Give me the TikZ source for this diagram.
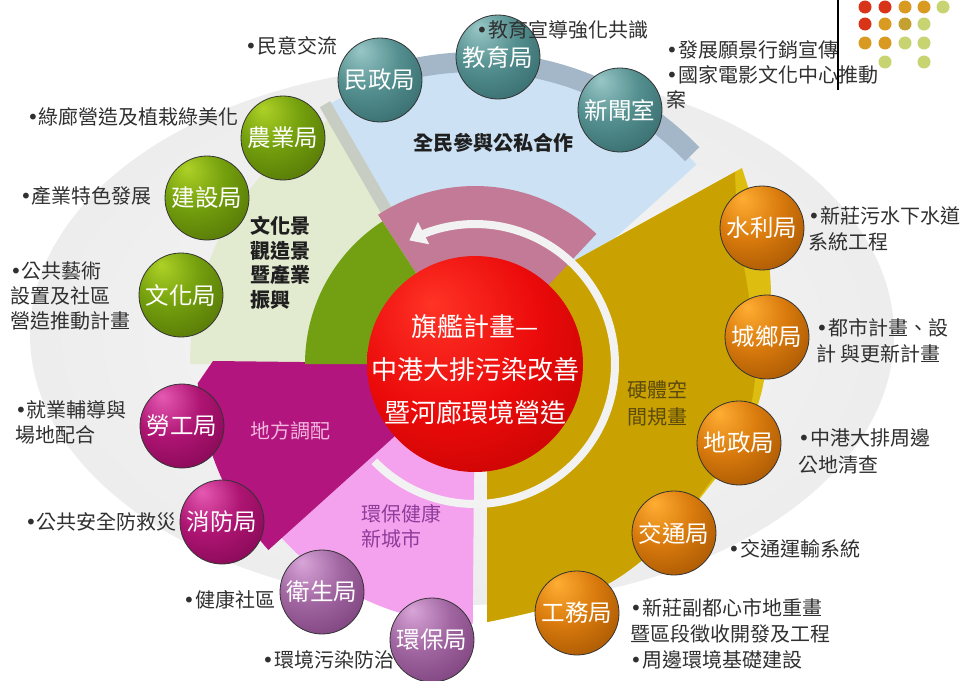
\documentclass[tikz,border=0pt]{standalone}
\usepackage{fontspec}
\setmainfont{Noto Sans CJK TC}
\newfontfamily\bulfont{DejaVu Sans}
\newcommand\mybul{{\bulfont •}}
\usetikzlibrary{calc,arrows.meta}
\definecolor{skyfill}{HTML}{CCE2F4}
\definecolor{bandblue}{HTML}{A3B7C9}
\definecolor{palegreen}{HTML}{E2EACF}
\definecolor{stripgray}{HTML}{C8CDC4}
\definecolor{goldfill}{HTML}{C9A100}
\definecolor{goldlight}{HTML}{DDBE10}
\definecolor{pinkfill}{HTML}{F5A2EE}
\definecolor{magfill}{HTML}{B3157E}
\definecolor{mauvefill}{HTML}{C27A96}
\definecolor{greenfill}{HTML}{72A012}
\definecolor{ringwhite}{HTML}{F2F2F2}
\definecolor{labelgray}{HTML}{303030}
\definecolor{dotred}{HTML}{D7341A}
\definecolor{dotamber}{HTML}{D99A22}
\definecolor{dotdark}{HTML}{C4A030}
\definecolor{dotgreen}{HTML}{C8D372}
\definecolor{pinktext}{HTML}{F2B6DE}
\definecolor{purpletext}{HTML}{8E3C9A}
\definecolor{olivetext}{HTML}{5C4A0E}
\pgfdeclareradialshading{shellipse}{\pgfpoint{0bp}{0bp}}{gray(0bp)=(0.97);gray(30bp)=(0.92);gray(50bp)=(0.86);gray(75bp)=(0.86)}
\pgfdeclareradialshading{shred}{\pgfpoint{-10bp}{14bp}}{rgb(0bp)=(1,0.2,0.15);rgb(22bp)=(0.92,0.04,0.04);rgb(48bp)=(0.7,0,0);rgb(75bp)=(0.5,0,0)}
\pgfdeclareradialshading{shteal}{\pgfpoint{-12bp}{18bp}}{rgb(0bp)=(0.6,0.78,0.78);rgb(20bp)=(0.33,0.56,0.56);rgb(45bp)=(0.18,0.38,0.39);rgb(75bp)=(0.08,0.2,0.2)}
\pgfdeclareradialshading{sholive}{\pgfpoint{-12bp}{18bp}}{rgb(0bp)=(0.68,0.82,0.15);rgb(20bp)=(0.45,0.62,0.05);rgb(45bp)=(0.3,0.42,0.02);rgb(75bp)=(0.15,0.22,0)}
\pgfdeclareradialshading{shmag}{\pgfpoint{-12bp}{18bp}}{rgb(0bp)=(0.9,0.35,0.7);rgb(20bp)=(0.68,0.08,0.45);rgb(45bp)=(0.48,0.02,0.3);rgb(75bp)=(0.25,0,0.15)}
\pgfdeclareradialshading{shmauve}{\pgfpoint{-12bp}{18bp}}{rgb(0bp)=(0.85,0.65,0.85);rgb(20bp)=(0.63,0.4,0.63);rgb(45bp)=(0.45,0.22,0.45);rgb(75bp)=(0.25,0.1,0.25)}
\pgfdeclareradialshading{shorange}{\pgfpoint{-12bp}{18bp}}{rgb(0bp)=(1,0.68,0.2);rgb(20bp)=(0.85,0.48,0.05);rgb(45bp)=(0.6,0.3,0);rgb(75bp)=(0.35,0.15,0)}
\begin{document}
\begin{tikzpicture}[x=1pt,y=-1pt,
  ballnode/.style={circle, minimum size=84pt, inner sep=0pt, draw=black!80, line width=0.8pt,
    text=white, font=\fontsize{23.5}{23.5}\selectfont, shade},
  tealball/.style={ballnode, shading=shteal},
  oliveball/.style={ballnode, shading=sholive},
  magball/.style={ballnode, shading=shmag},
  mauveball/.style={ballnode, shading=shmauve},
  orangeball/.style={ballnode, shading=shorange},
  lbl/.style={inner sep=0pt, align=left, text=labelgray, font=\fontsize{20}{25}\selectfont},
  seclbl/.style={inner sep=0pt, align=left, font=\fontsize{20}{24.5}\selectfont},
  dotc/.style={radius=6.5pt}
]
\useasboundingbox (0,0) rectangle (976,680);
\coordinate (C) at (475,364);
% background ellipse
\shade[shading=shellipse] (462,335) ellipse [x radius=432pt, y radius=270pt];
% top blue sector and band
\fill[skyfill] (C) -- plot[domain=42:119,samples=50] ({475+298*cos(\x)},{364-298*sin(\x)}) -- cycle;
\draw[bandblue, line width=20pt] plot[domain=44:113,samples=50] ({475+302*cos(\x)},{364-302*sin(\x)});
% pale green sector
\fill[palegreen] (C) -- plot[domain=121:180,samples=40] ({475+285*cos(\x)},{364-285*sin(\x)}) -- cycle;
\draw[stripgray, line width=12pt] ({475+170*cos(120)},{364-170*sin(120)}) -- ({475+300*cos(120)},{364-300*sin(120)});
% gold sector
\fill[goldlight] (487,309) -- plot[smooth] coordinates {(487,622) (547,608) (613,581) (667,538) (712,483) (742,445) (762,390) (771,320) (768,255) (752,200) (742,168)} -- cycle;
\fill[goldfill] (487,309) -- plot[smooth] coordinates {(487,622) (547,608) (613,581) (667,538) (710,482) (736,446) (752,400) (756,350) (748,290) (738,230) (735,172)} -- cycle;
% pink sector
\fill[pinkfill] (C) -- plot[domain=222:269.5,samples=40] ({475+260*cos(\x)},{364-260*sin(\x)}) -- cycle;
% magenta sector
\fill[magfill] (C) -- (213,361) -- plot[domain=184:222,samples=30] ({475+278*cos(\x)},{364-278*sin(\x)}) -- cycle;
% mauve inner sector
\fill[mauvefill] (C) -- plot[domain=47:123,samples=40] ({475+178*cos(\x)},{364-178*sin(\x)}) -- cycle;
% green inner sector
\fill[greenfill] (C) -- plot[domain=123:180,samples=40] ({475+170*cos(\x)},{364-170*sin(\x)}) -- cycle;
% white circular arrow
\draw[ringwhite, line width=8pt, -{Triangle[length=16pt,width=24pt]}] plot[domain=-136:118,samples=120] ({475+140*cos(\x)},{364-140*sin(\x)});
% centre
\node[circle, minimum size=216pt, inner sep=0pt, shade, shading=shred] (core) at (C) {};
\node[inner sep=0pt, align=center, text=white, font=\fontsize{26}{43}\selectfont] (coretext) at (475,370) {旗艦計畫—\\中港大排污染改善\\暨河廊環境營造};
% sector labels
\node[seclbl, font=\bfseries\fontsize{20}{24.5}\selectfont, text=black!88] (secA) at (493,143) {全民參與公私合作};
\node[seclbl, font=\bfseries\fontsize{20}{24.5}\selectfont, text=black!88, anchor=north west] (secB) at (250,216) {文化景\\觀造景\\暨產業\\振興};
\node[seclbl, text=pinktext] (secC) at (290,431) {地方調配};
\node[seclbl, text=purpletext, anchor=north west, font=\fontsize{20}{25}\selectfont] (secD) at (361,504) {環保健康\\新城市};
\node[seclbl, text=olivetext, anchor=north west, font=\fontsize{20}{27}\selectfont] (secE) at (627,380) {硬體空\\間規畫};
% bullet labels (under the balls)
\node[lbl, anchor=west] (tMinyi) at (245,46) {\mybul 民意交流};
\node[lbl, anchor=north west] (tFazhan) at (666,40) {\mybul 發展願景行銷宣傳\\\mybul 國家電影文化中心推動\\案};
\node[lbl, anchor=west] (tLvlang) at (27,117) {\mybul 綠廊營造及植栽綠美化};
\node[lbl, anchor=west] (tChanye) at (20,196) {\mybul 產業特色發展};
\node[lbl, anchor=north west] (tYishu) at (10,261) {\mybul 公共藝術\\設置及社區\\營造推動計畫};
\node[lbl, anchor=north west] (tJiuye) at (15,400) {\mybul 就業輔導與\\場地配合};
\node[lbl, anchor=west] (tAnquan) at (25,522) {\mybul 公共安全防救災};
\node[lbl, anchor=west] (tJiankang) at (183,600) {\mybul 健康社區};
\node[lbl, anchor=west] (tWuran) at (262,660) {\mybul 環境污染防治};
\node[lbl, anchor=north west, font=\fontsize{20}{26.5}\selectfont] (tWushui) at (808,206) {\mybul 新莊污水下水道\\系統工程};
\node[lbl, anchor=north west, font=\fontsize{20}{26}\selectfont] (tDushi) at (816,318) {\mybul 都市計畫、設\\計 與更新計畫};
\node[lbl, anchor=north west, font=\fontsize{20}{27}\selectfont] (tGongdi) at (798,428) {\mybul 中港大排周邊\\公地清查};
\node[lbl, anchor=west] (tJiaotong) at (728,549) {\mybul 交通運輸系統};
\node[lbl, anchor=north west, font=\fontsize{20}{26}\selectfont] (tXinzhuang) at (630,598) {\mybul 新莊副都心市地重畫\\暨區段徵收開發及工程\\\mybul 周邊環境基礎建設};
% balls
\node[tealball] (bMinzheng) at (380,80) {民政局};
\node[tealball] (bJiaoyu) at (498,57) {教育局};
\node[tealball] (bXinwen) at (620,110) {新聞室};
\node[oliveball] (bNongye) at (283,138) {農業局};
\node[oliveball] (bJianshe) at (207,198) {建設局};
\node[oliveball] (bWenhua) at (181,295) {文化局};
\node[magball] (bLaogong) at (182,426) {勞工局};
\node[magball] (bXiaofang) at (222,522) {消防局};
\node[mauveball] (bWeisheng) at (322,592) {衛生局};
\node[mauveball] (bHuanbao) at (432,640) {環保局};
\node[orangeball] (bShuili) at (762,228) {水利局};
\node[orangeball] (bChengxiang) at (767,337) {城鄉局};
\node[orangeball] (bDizheng) at (739,443) {地政局};
\node[orangeball] (bJiaotong) at (674,533) {交通局};
\node[orangeball] (bGongwu) at (577,613) {工務局};
% label drawn over the ball
\node[lbl, anchor=west] (tJiaoyu) at (476,30) {\mybul 教育宣導強化共識};
% corner decoration
\draw[black, line width=1.2pt] (838,0) -- (838,90);
\fill[dotred] (865,7) circle[dotc]; \fill[dotred] (885,7) circle[dotc];
\fill[dotamber] (905,7) circle[dotc]; \fill[dotamber] (924,7) circle[dotc];
\fill[dotgreen] (943,7) circle[dotc];
\fill[dotred] (865,24) circle[dotc]; \fill[dotamber] (885,24) circle[dotc];
\fill[dotdark] (905,24) circle[dotc]; \fill[dotgreen] (924,24) circle[dotc];
\fill[dotamber] (865,43) circle[dotc]; \fill[dotamber] (885,43) circle[dotc];
\fill[dotgreen] (905,43) circle[dotc]; \fill[dotgreen] (924,43) circle[dotc];
\fill[dotgreen] (885,62) circle[dotc]; \fill[dotgreen] (924,62) circle[dotc];
\end{tikzpicture}
\end{document}
